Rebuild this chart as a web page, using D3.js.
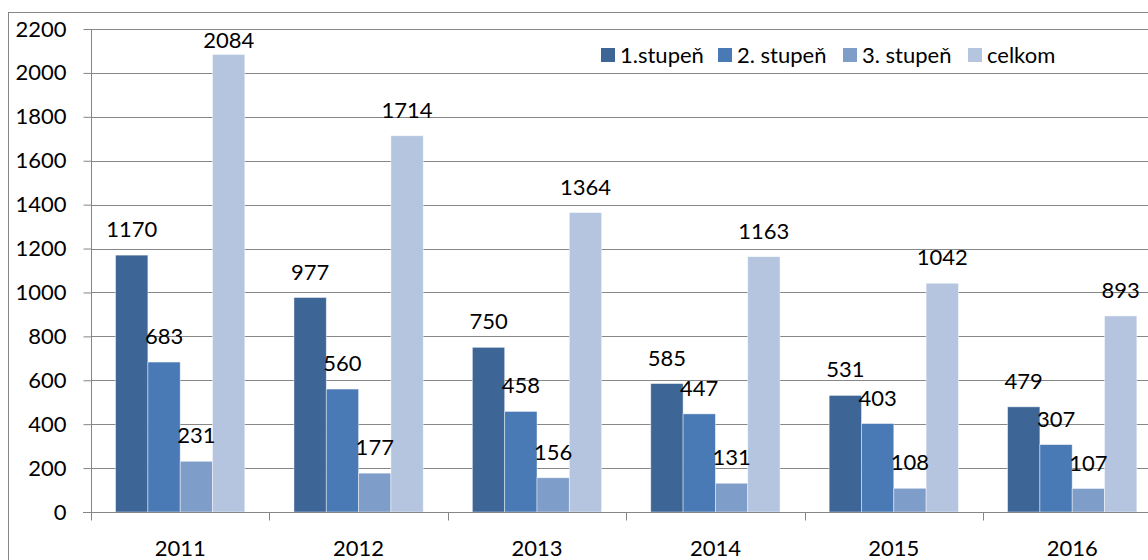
<!DOCTYPE html>
<html>
<head>
    <meta charset="utf-8">
    <script src="https://d3js.org/d3.v7.min.js" charset="utf-8"></script>
    <style>
        body { margin: 0; background: #fff; }
        text { font-family: Lato, "Open Sans", sans-serif; fill: #000; }
    </style>
</head>
<body>
    <div id="chart_container"></div>
    <script>
        // data
        var years = ['2011', '2012', '2013', '2014', '2015', '2016'];
        var seriesNames = ['1.stupeň', '2. stupeň', '3. stupeň', 'celkom'];
        var stupen1 = [1170, 977, 750, 585, 531, 479];
        var stupen2 = [683, 560, 458, 447, 403, 307];
        var stupen3 = [231, 177, 156, 131, 108, 107];
        var celkom = [2084, 1714, 1364, 1163, 1042, 893];
        var yTicks = [0, 200, 400, 600, 800, 1000, 1200, 1400, 1600, 1800, 2000, 2200];
        var colors = ['#3d6596', '#4a7ab5', '#7f9dc9', '#b5c5e0'];

        var width = 1148, height = 560;
        var allSeries = [stupen1, stupen2, stupen3, celkom];

        var svg = d3.select('#chart_container').append('svg')
            .attr('width', width)
            .attr('height', height);

        // outer frame
        svg.append('rect')
            .attr('x', 8.5).attr('y', 12.5)
            .attr('width', 1200).attr('height', 600)
            .attr('fill', 'none').attr('stroke', '#868686');

        var x0 = d3.scaleBand().domain(years).range([91, 1161.4]);
        var x1 = d3.scaleBand().domain(seriesNames).range([0, x0.bandwidth()]).paddingOuter(0.76);
        var y = d3.scaleLinear().domain([0, 2200]).range([512, 29]);

        // gridlines
        svg.append('g').selectAll('line')
            .data(yTicks.filter(d => d > 0))
            .join('line')
            .attr('x1', 91).attr('x2', width)
            .attr('y1', d => Math.round(y(d)) + 0.5).attr('y2', d => Math.round(y(d)) + 0.5)
            .attr('stroke', '#878787').attr('stroke-width', 1);

        // bars
        var groups = svg.append('g').selectAll('g')
            .data(years)
            .join('g')
            .attr('transform', d => 'translate(' + x0(d) + ',0)');

        groups.selectAll('rect')
            .data((d, i) => seriesNames.map((s, j) => ({ s: s, v: allSeries[j][i], c: colors[j] })))
            .join('rect')
            .attr('x', d => x1(d.s))
            .attr('width', x1.bandwidth())
            .attr('y', d => y(d.v))
            .attr('height', d => y(0) - y(d.v))
            .attr('fill', d => d.c)
            .attr('stroke', 'rgba(255,255,255,0.55)')
            .attr('stroke-width', 0.8);

        // value labels, kept inside the plot area at the top
        groups.selectAll('text')
            .data((d, i) => seriesNames.map((s, j) => ({ s: s, v: allSeries[j][i] })))
            .join('text')
            .attr('x', d => x1(d.s) + x1.bandwidth() / 2)
            .attr('y', d => Math.max(y(d.v) - 18, y(2200) + 19))
            .attr('text-anchor', 'middle')
            .style('font-size', '22px')
            .text(d => d.v);

        // y axis
        var yAxis = svg.append('g')
            .attr('transform', 'translate(91.5,0)')
            .call(d3.axisLeft(y).tickValues(yTicks).tickSize(8).tickPadding(17).tickFormat(d3.format('d')));
        yAxis.select('.domain').attr('stroke', '#868686').attr('d', 'M0,' + y(2200) + 'V' + y(0));
        yAxis.selectAll('.tick line').attr('stroke', '#868686');
        yAxis.selectAll('.tick text').style('font-size', '22px').style('font-family', 'Lato, sans-serif').attr('fill', '#000');

        // x axis
        var xAxisG = svg.append('g').attr('transform', 'translate(0,' + (y(0) + 0.5) + ')');
        xAxisG.append('line')
            .attr('x1', 83).attr('x2', width)
            .attr('stroke', '#868686');
        xAxisG.selectAll('.bound')
            .data(years.concat(['end']))
            .join('line')
            .attr('class', 'bound')
            .attr('x1', (d, i) => Math.round(x0.range()[0] + i * x0.step()) + 0.5)
            .attr('x2', (d, i) => Math.round(x0.range()[0] + i * x0.step()) + 0.5)
            .attr('y1', 0).attr('y2', 8)
            .attr('stroke', '#868686');
        xAxisG.selectAll('.xlab')
            .data(years)
            .join('text')
            .attr('class', 'xlab')
            .attr('x', d => x0(d) + x0.bandwidth() / 2)
            .attr('y', 43)
            .attr('text-anchor', 'middle')
            .style('font-size', '22px')
            .text(d => d);

        // legend
        var legendX = [601, 718, 843, 968];
        var legend = svg.append('g').selectAll('g')
            .data(seriesNames)
            .join('g')
            .attr('transform', (d, i) => 'translate(' + legendX[i] + ',48)');
        legend.append('rect')
            .attr('width', 14).attr('height', 14)
            .attr('fill', (d, i) => colors[i]);
        legend.append('text')
            .attr('x', 19).attr('y', 15)
            .style('font-size', '22px')
            .text(d => d);
    </script>
</body>
</html>
